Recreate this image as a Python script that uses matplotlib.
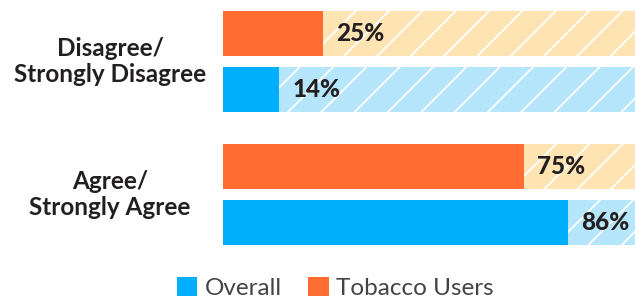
import matplotlib
matplotlib.use("Agg")
import matplotlib.pyplot as plt
from matplotlib.patches import Patch
from matplotlib import transforms
import numpy as np

categories = ["Disagree/\nStrongly Disagree", "Agree/\nStrongly Agree"]
series_names = ["Overall", "Tobacco Users"]
overall = [14, 86]
tobacco = [25, 75]

plt.rcParams["font.family"] = ["Lato", "DejaVu Sans"]
plt.rcParams["hatch.linewidth"] = 1.3
plt.rcParams["hatch.color"] = "white"

BLUE = "#00B0FF"
ORANGE = "#FF6D33"
BLUE_BG = "#B5E6FB"
ORANGE_BG = "#FFE4B3"
TEXT = "#231F20"

fig = plt.figure(figsize=(6.35, 3.01), dpi=100)
ax = fig.add_axes([223 / 635, 1 - 245 / 301, 412 / 635, 234 / 301])

XMAX = 102.7
y = np.arange(len(categories))
off = 0.21
h = 0.338

for vals, col, bg, dy in [(tobacco, ORANGE, ORANGE_BG, -off), (overall, BLUE, BLUE_BG, off)]:
    ax.barh(y + dy, [XMAX] * len(vals), height=h, color=bg, hatch="/", edgecolor="white", linewidth=0)
    ax.barh(y + dy, vals, height=h, color=col, linewidth=0)
    for yi, v in zip(y, vals):
        ax.annotate(f"{v}%", (v, yi + dy), xytext=(9.5, 0), textcoords="offset points",
                    ha="left", va="center", fontsize=17.5, fontweight="black", color=TEXT)

ax.set_xlim(0, XMAX)
ax.set_ylim(1 + off + h / 2, -off - h / 2)
ax.axis("off")

tr = transforms.blended_transform_factory(fig.transFigure, ax.transData)
for yi, lab in zip(y, categories):
    ax.text(110 / 635, yi, lab, transform=tr, ha="center", va="center", fontsize=17.5,
            fontweight="bold", color=TEXT, linespacing=1.15)

handles = [Patch(facecolor=BLUE, edgecolor="none"), Patch(facecolor=ORANGE, edgecolor="none")]
fig.legend(handles, series_names, loc="lower center", bbox_to_anchor=(0.528, -0.065), ncol=2,
           frameon=False, fontsize=17.5, handlelength=0.85, handleheight=0.85, handletextpad=0.3,
           columnspacing=1.1, labelcolor="#444444")

fig.savefig("out.png", dpi=100)
